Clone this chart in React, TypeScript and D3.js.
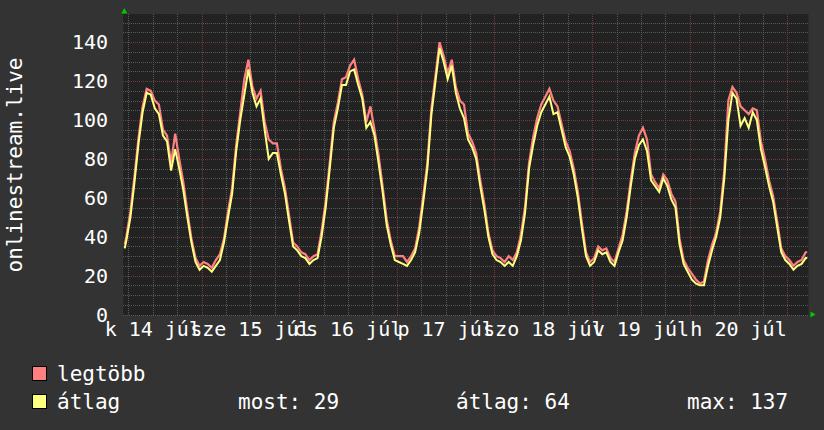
import React from "react";
import * as d3 from "d3";

// ---- data (hourly, starting 14 júl 05:00) ----
const START_HOUR = 5;
const AVG_VALUES = [
  38, 50, 68, 88, 104, 114, 113, 106, 103, 92, 89, 74, 85, 75, 64, 50, 37, 27, 23,
  25, 24, 22, 25, 28, 37, 50, 62, 84, 100, 113, 126, 114, 107, 111, 95, 80, 83, 83, 72, 62, 48, 35, 33, 30, 29, 26, 28,
  29, 40, 55, 75, 96, 106, 118, 118, 125, 126, 118, 111, 96, 99, 92, 78, 63, 46, 36, 28, 27,
  26, 25, 28, 32, 42, 58, 75, 103, 120, 137, 130, 121, 128, 114, 106, 101, 90, 86, 80, 66, 54, 40, 31, 28, 27,
  25, 27, 25, 30, 38, 52, 75, 87, 97, 104, 108, 112, 103, 104, 95, 86, 81, 72, 60, 44, 30, 25,
  27, 33, 31, 32, 27, 25, 32, 38, 50, 66, 80, 87, 90, 84, 69, 66, 63, 70, 66, 59, 55, 36, 26, 22,
  18, 16, 15, 15, 25, 33, 40, 50, 70, 100, 114, 111, 97, 101, 96, 104, 100, 85, 76, 66, 58, 45, 32, 28,
  26, 23, 25, 26, 29,
];
const MAX_VALUES = [
  40, 53, 71, 91, 107, 116, 115, 110, 108, 95, 92, 78, 93, 80, 68, 53, 39, 29, 25,
  27, 26, 24, 28, 31, 39, 53, 65, 87, 104, 121, 131, 117, 111, 115, 99, 90, 88, 88, 75, 65, 51, 37, 35, 32, 31, 28, 30,
  31, 43, 58, 78, 99, 109, 121, 122, 128, 131, 121, 113, 99, 107, 95, 82, 66, 49, 38, 30, 30,
  30, 27, 30, 34, 45, 61, 78, 106, 123, 140, 133, 124, 131, 117, 110, 108, 93, 89, 83, 69, 57, 42, 33, 30, 29,
  27, 30, 28, 32, 41, 55, 78, 91, 101, 108, 112, 116, 110, 107, 98, 89, 84, 75, 63, 47, 32, 27,
  29, 35, 33, 34, 29, 27, 34, 41, 53, 69, 83, 92, 96, 90, 72, 68, 65, 72, 69, 62, 58, 39, 28, 24,
  21, 18, 16, 17, 28, 36, 42, 53, 74, 110, 117, 114, 107, 105, 103, 106, 105, 89, 80, 69, 61, 48, 34, 30,
  28, 25, 27, 28, 32,
];
const DAY_LABELS = ["k 14 júl", "sze 15 júl", "cs 16 júl", "p 17 júl", "szo 18 júl", "v 19 júl", "h 20 júl"];
const Y_TICKS = [0, 20, 40, 60, 80, 100, 120, 140];
const SERIES_NAMES = ["legtöbb", "átlag"];
const STAT_LABELS = ["most: 29", "átlag: 64", "max: 137"];
const Y_TITLE = "onlinestream.live";

// ---- layout ----
const W = 824, H = 430;
const PL = 123.3, PR = 808.5, PT = 14, PB = 314.5;
const H_MIN = 4.75, H_MAX = 173.2;
const FONT = "'DejaVu Sans Mono', monospace";
const C_BACK = "#333333", C_CANVAS = "#222222";
const C_GRID = "#595959", C_MGRID = "#6e3c3c";
const C_MAX = "#ff8080", C_AVG = "#ffff80";

export default function App() {
  const x = d3.scaleLinear().domain([H_MIN, H_MAX]).range([PL, PR]);
  const y = d3.scaleLinear().domain([0, 154.5]).range([PB, PT]);

  const toPts = (arr: number[]) => {
    const pts = arr.map((v, i) => ({ h: START_HOUR + i + 0.5, v }));
    pts.unshift({ h: START_HOUR + 0.1, v: arr[0] - 4 });
    pts.push({ h: H_MAX - 0.3, v: arr[arr.length - 1] });
    return pts;
  };
  const line = d3
    .line<{ h: number; v: number }>()
    .x((d) => x(d.h))
    .y((d) => y(d.v))
    .curve(d3.curveLinear);

  const minorH = d3.range(0, 151, 5).filter((v) => v % 20 !== 0);
  const majorH = d3.range(0, 151, 20);
  const vHours = d3.range(6, 174, 6).filter((h) => h > H_MIN && h < H_MAX);
  const minorV = vHours.filter((h) => h % 24 !== 0);
  const majorV = vHours.filter((h) => h % 24 === 0);

  return (
    <svg
      width={W}
      height={H}
      style={{ position: "absolute", left: 0, top: 0, display: "block" }}
      fontFamily={FONT}
    >
      <rect x={0} y={0} width={W} height={H} fill={C_BACK} />
      <rect x={PL} y={PT} width={PR - PL} height={PB - PT + 1} fill={C_CANVAS} />

      {/* grid */}
      <g shapeRendering="crispEdges" strokeWidth={1} strokeDasharray="1,1">
        {minorH.map((v) => (
          <line key={"mh" + v} x1={PL} x2={PR} y1={Math.round(y(v)) + 0.5} y2={Math.round(y(v)) + 0.5} stroke={C_GRID} />
        ))}
        {minorV.map((h) => (
          <line key={"mv" + h} x1={Math.round(x(h)) + 0.5} x2={Math.round(x(h)) + 0.5} y1={PT} y2={PB + 1} stroke={C_GRID} />
        ))}
        {majorH.map((v) => (
          <line key={"Mh" + v} x1={PL} x2={PR} y1={Math.round(y(v)) + 0.5} y2={Math.round(y(v)) + 0.5} stroke={v === 0 ? C_GRID : C_MGRID} />
        ))}
        {majorV.map((h) => (
          <line key={"Mv" + h} x1={Math.round(x(h)) + 0.5} x2={Math.round(x(h)) + 0.5} y1={PT} y2={PB + 1} stroke={C_MGRID} />
        ))}
      </g>

      {/* series */}
      <path d={line(toPts(MAX_VALUES)) || ""} fill="none" stroke={C_MAX} strokeWidth={2.2} strokeLinejoin="miter" />
      <path d={line(toPts(AVG_VALUES)) || ""} fill="none" stroke={C_AVG} strokeWidth={2} strokeLinejoin="miter" />

      {/* arrows */}
      <polygon points={`${PL - 2},${PT - 0.5} ${PL + 4},${PT - 0.5} ${PL + 1},${PT - 6}`} fill="#00cc00" />
      <polygon points={`${PR + 2},${PB - 3} ${PR + 2},${PB + 3} ${PR + 7},${PB}`} fill="#00cc00" />

      {/* y ticks */}
      {Y_TICKS.map((v) => (
        <text key={"yt" + v} x={108} y={y(v)} dy="0.36em" textAnchor="end" fontSize={20} fill="#ffffff">
          {v}
        </text>
      ))}

      {/* x labels */}
      {DAY_LABELS.map((lab, i) => (
        <text key={"xl" + i} x={x(12 + 24 * i)} y={336} textAnchor="middle" fontSize={20} fill="#ffffff">
          {lab}
        </text>
      ))}

      {/* y title */}
      <text transform={`translate(22,165) rotate(-90)`} textAnchor="middle" fontSize={21} fill="#ffffff">
        {Y_TITLE}
      </text>

      {/* legend */}
      <rect x={32.5} y={366.5} width={14} height={14} fill={C_MAX} stroke="#000" strokeWidth={1} />
      <text x={57} y={381} fontSize={21} fill="#ffffff">{SERIES_NAMES[0]}</text>
      <rect x={32.5} y={394.5} width={14} height={14} fill={C_AVG} stroke="#000" strokeWidth={1} />
      <text x={57} y={409} fontSize={21} fill="#ffffff">{SERIES_NAMES[1]}</text>
      <text x={238} y={409} fontSize={21} fill="#ffffff">{STAT_LABELS[0]}</text>
      <text x={456} y={409} fontSize={21} fill="#ffffff">{STAT_LABELS[1]}</text>
      <text x={687} y={409} fontSize={21} fill="#ffffff">{STAT_LABELS[2]}</text>
    </svg>
  );
}
